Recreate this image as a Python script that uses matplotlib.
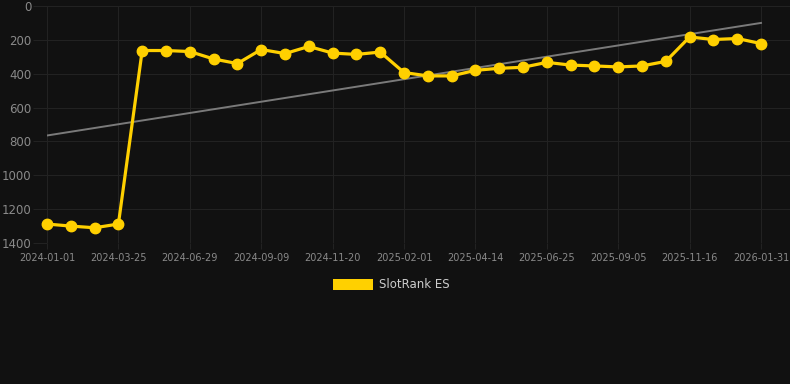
import matplotlib
matplotlib.use("Agg")
import matplotlib.pyplot as plt
from matplotlib.patches import Rectangle

tick_labels = ["2024-01-01", "2024-03-25", "2024-06-29", "2024-09-09", "2024-11-20",
               "2025-02-01", "2025-04-14", "2025-06-25", "2025-09-05", "2025-11-16",
               "2026-01-31"]
rank_values = [1288, 1300, 1310, 1288, 263, 263, 269, 313, 340, 257, 281, 239, 278, 286,
               272, 393, 413, 413, 380, 368, 362, 333, 349, 354, 360, 354, 327, 183, 198,
               192, 222]
trend_values = [765, 100]
series_name = "SlotRank ES"

bg = "#111111"
fig = plt.figure(figsize=(7.9, 3.84), dpi=100, facecolor=bg)
ax = fig.add_axes([47/790, 1-243/384, 743/790, 237/384], facecolor=bg)

n = len(rank_values)
step = 714 / 30
xs = list(range(n))
ax.plot([0, n-1], trend_values, color="#7a7a7a", lw=1.4, zorder=2)
ax.plot(xs, rank_values, color="#FFD000", lw=2.3, marker="o", markersize=7.5,
        markerfacecolor="#FFD000", markeredgecolor="#FFD000", zorder=3, clip_on=False)

ax.set_xlim(0, 743 / step)
ax.set_ylim(1400, 0)
ax.set_yticks(range(0, 1401, 200))
ax.set_xticks(range(0, n, 3))
ax.set_xticklabels(tick_labels)
ax.grid(True, color="#222222", lw=0.8)
ax.set_axisbelow(True)
for s in ax.spines.values():
    s.set_visible(False)
ax.tick_params(axis="x", colors="#222222", labelcolor="#8a8a8a", labelsize=7, length=4, pad=3)
ax.tick_params(axis="y", colors="#222222", labelcolor="#8a8a8a", labelsize=8.5, length=10, pad=1)

fig.patches.append(Rectangle((333/790, 1-290/384), 40/790, 11/384, transform=fig.transFigure,
                             facecolor="#FFD000", edgecolor="none"))
fig.text(379/790, 1-285/384, series_name, color="#cccccc", fontsize=8.5, va="center", ha="left")

fig.savefig("out.png", dpi=100, facecolor=bg)
